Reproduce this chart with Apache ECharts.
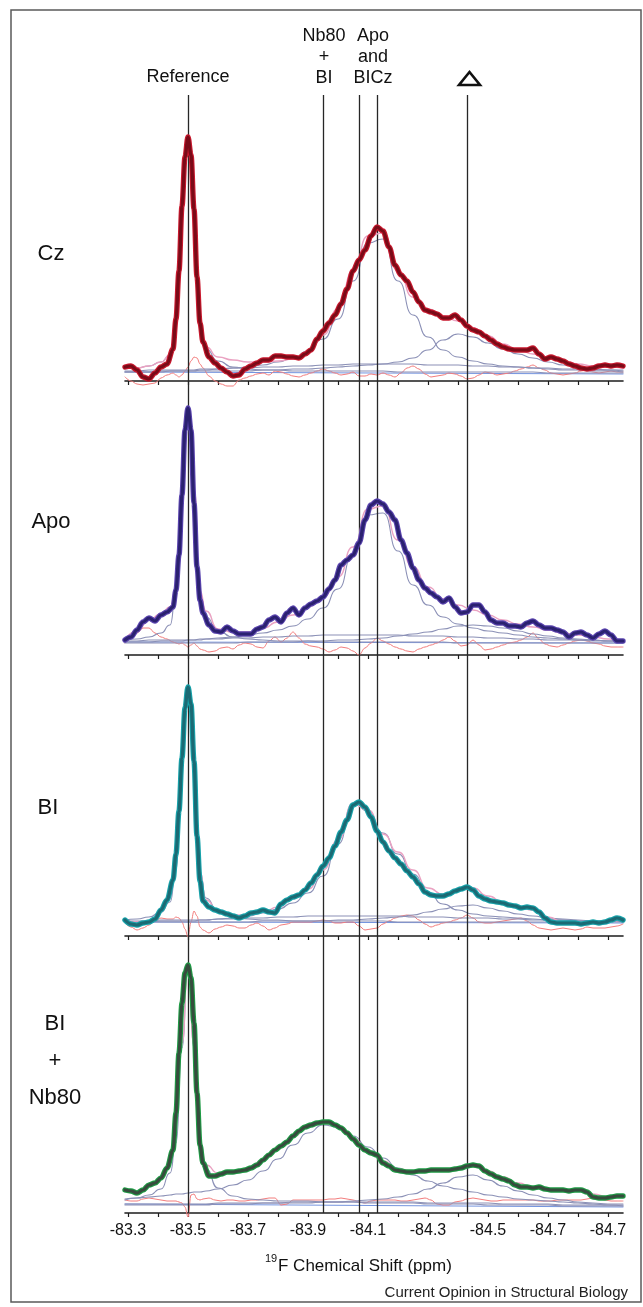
<!DOCTYPE html>
<html>
<head>
<meta charset="utf-8">
<title>19F NMR spectra</title>
<script src="https://cdn.jsdelivr.net/npm/echarts@6.0.0/dist/echarts.min.js"></script>
<style>
  html, body { margin: 0; padding: 0; background: #fff; }
  #main { width: 643px; height: 1307px; }
</style>
</head>
<body>
<div id="main"></div>
<script>
// chemical shift grid (ppm) used by the measured spectra and residuals
var PPM = [
  -83.29,-83.31,-83.33,-83.35,-83.37,-83.39,-83.41,-83.43,-83.45,
  -83.46,-83.47,-83.48,-83.49,-83.50,-83.51,-83.52,-83.53,-83.54,-83.55,
  -83.57,-83.59,-83.61,-83.63,-83.65,-83.67,-83.69,-83.71,-83.73,-83.75,
  -83.77,-83.79,-83.81,-83.83,-83.85,-83.87,-83.89,-83.91,-83.93,-83.95,
  -83.97,-83.99,-84.01,-84.03,-84.05,-84.07,-84.09,-84.11,-84.13,-84.15,
  -84.17,-84.19,-84.21,-84.23,-84.25,-84.27,-84.29,-84.31,-84.33,-84.35,
  -84.37,-84.39,-84.41,-84.43,-84.45,-84.47,-84.49,-84.51,-84.53,-84.55,
  -84.57,-84.59,-84.61,-84.63,-84.65,-84.67,-84.69,-84.71,-84.73,-84.75,
  -84.77,-84.79,-84.81,-84.83,-84.85,-84.87,-84.89,-84.91,-84.93,-84.95
];

// measured spectra (arbitrary intensity)
var CZ_SPEC = [
  14,15,11,4,2,8,14,17,32,
  62,110,175,224,244,226,172,104,58,39,
  24,18,13,9,5,6,12,15,18,21,
  21,25,25,24,24,23,27,31,42,50,
  58,66,77,92,110,121,131,145,154,150,
  134,116,106,100,89,79,71,69,67,63,
  63,66,61,55,51,49,45,41,37,34,
  32,31,31,31,33,27,22,24,22,20,
  17,15,13,12,13,15,16,15,16,15
];
var APO_SPEC = [
  15,18,25,33,37,34,40,43,48,
  65,100,160,225,247,225,152,88,55,42,
  30,24,23,28,24,21,21,21,26,28,
  35,38,33,42,47,40,47,51,54,58,
  66,75,90,95,100,112,135,150,154,151,
  143,135,115,102,87,75,67,62,58,53,
  57,48,42,43,50,50,43,35,32,32,
  29,29,28,32,34,30,27,27,25,23,
  18,22,23,20,17,21,24,20,14,14
];
var BI_SPEC = [
  16,12,11,13,14,17,26,36,56,
  82,125,178,228,249,232,175,100,55,35,
  29,26,24,22,20,18,20,23,24,26,
  24,23,32,36,39,41,46,53,61,70,
  78,90,104,116,131,134,129,119,105,94,
  85,78,72,65,59,52,44,41,40,40,
  42,45,47,49,46,40,37,35,34,33,
  31,30,28,29,28,24,18,14,13,13,
  13,13,12,13,14,13,14,16,18,16
];
var BINB_SPEC = [
  23,22,20,23,28,30,35,45,63,
  100,160,210,240,248,235,190,120,68,50,
  37,37,39,41,41,42,43,45,48,53,
  58,63,67,71,77,82,86,88,90,91,
  91,88,85,80,74,68,63,60,58,50,
  47,43,42,41,41,42,42,43,43,43,
  43,44,45,47,48,47,42,39,36,34,
  32,28,26,26,25,26,24,23,23,23,
  22,23,23,21,16,15,15,16,17,17
];

// fit residuals
var CZ_RESID = [
  4,0,-3,-4,-3,-2,3,6,8,
  6,4,6,10,14,20,24,23,17,13,
  5,0,-3,-5,-5,1,3,5,7,8,
  6,10,9,7,5,4,6,8,10,12,
  10,8,6,7,9,5,5,7,6,8,
  6,4,8,13,15,12,7,4,5,6,
  8,7,5,2,3,6,9,8,6,7,
  8,10,12,14,16,13,11,8,7,6,
  7,8,10,11,9,8,9,10,9,9
];
var APO_RESID = [
  12,16,22,27,27,22,18,16,13,
  12,11,12,10,8,10,12,9,6,5,
  3,4,7,8,6,10,12,11,8,7,
  14,18,13,17,23,17,11,9,8,6,
  3,5,8,7,4,0,7,12,17,14,
  11,8,6,4,3,6,8,10,12,15,
  18,14,9,10,15,10,5,6,8,10,
  12,13,15,18,22,16,11,9,8,10,
  12,14,15,14,12,11,9,8,8,8
];
var BI_RESID = [
  13,9,6,8,11,15,18,17,17,
  19,18,14,7,-1,14,25,20,9,6,
  3,7,9,11,10,8,8,11,13,10,
  6,8,11,12,14,14,14,14,15,16,
  15,13,13,14,14,10,6,7,8,12,
  15,18,20,21,20,16,12,9,11,13,
  14,16,18,21,18,14,13,13,14,15,
  16,17,18,15,11,8,7,6,7,8,
  7,6,7,9,8,8,8,9,10,12
];
var BINB_RESID = [
  13,12,12,14,15,14,13,12,12,
  12,11,10,6,-4,18,19,14,13,14,
  15,13,12,13,13,12,12,13,13,14,
  15,15,8,9,13,13,13,13,13,13,
  14,14,15,14,13,11,10,12,13,13,
  13,13,12,12,13,14,15,13,9,8,
  8,11,12,14,15,14,13,12,12,13,
  13,13,13,13,13,12,12,12,13,13,
  13,13,13,14,15,14,13,12,12,12
];

// coarser grid for the fitted curve and its components
var CPPM = [
  -83.29,-83.33,-83.37,-83.41,-83.44,-83.46,-83.48,-83.50,-83.52,-83.54,-83.56,
  -83.60,-83.65,-83.70,-83.75,-83.80,-83.85,-83.90,-83.95,-84.00,-84.05,
  -84.10,-84.15,-84.20,-84.25,-84.30,-84.35,-84.40,-84.45,-84.50,-84.55,
  -84.60,-84.65,-84.70,-84.75,-84.80,-84.85,-84.90,-84.95
];

var CZ_REF   = [12,13,15,19,26,58,170,244,168,58,32, 20,14,12,11,11,10,10,10,10,10, 10,10,9,9,9,9,9,9,9,9, 9,9,8,8,8,8,8,8];
var CZ_MAIN  = [9,9,9,10,10,10,10,10,10,11,11, 12,13,14,16,19,23,30,42,62,100, 138,142,100,66,44,31,24,20,17,15, 14,13,12,11,11,10,10,9];
var CZ_TRI   = [9,9,9,9,10,10,10,10,10,10,10, 10,10,10,11,11,12,12,13,14,15, 16,17,19,23,31,41,47,44,38,32, 27,23,19,16,14,12,11,10];
var CZ_BROAD = [10,10,11,11,11,11,11,11,11,12,12, 12,13,13,14,14,15,15,16,16,17, 17,17,17,17,16,16,16,15,15,14, 14,13,13,12,12,11,11,11];
var CZ_FIT   = [13,13,15,19,26,60,172,244,170,60,34, 24,21,19,19,20,22,28,46,72,110, 145,148,110,84,72,65,60,53,45,37, 31,27,23,20,17,15,14,13];

var APO_REF   = [15,16,18,22,30,62,166,247,166,62,38, 24,18,16,15,14,14,14,13,13,13, 13,13,13,13,13,13,12,12,12,12, 12,12,12,12,12,12,12,12];
var APO_MAIN  = [13,13,13,14,14,14,14,15,15,15,16, 17,18,20,22,25,29,36,47,66,100, 140,142,104,70,50,38,31,27,24,22, 20,18,17,16,15,15,14,14];
var APO_TRI   = [12,12,12,12,12,12,12,12,12,12,12, 12,12,13,13,13,13,14,14,15,15, 16,17,19,21,23,26,29,30,29,27, 24,21,19,17,16,15,14,13];
var APO_BROAD = [14,14,15,15,15,15,15,15,15,16,16, 16,17,17,18,18,19,19,20,20,20, 20,20,20,19,19,19,18,18,17,17, 16,16,15,15,15,14,14,14];
var APO_FIT   = [15,24,35,41,48,66,166,247,166,64,44, 26,23,23,27,33,40,48,58,78,108, 146,149,115,88,68,56,50,45,40,35, 31,28,25,22,20,18,16,15];

var BI_REF   = [16,17,19,24,34,66,172,249,170,64,38, 25,19,17,16,16,15,15,15,15,15, 15,15,14,14,14,14,14,14,14,14, 14,14,14,14,14,14,14,14];
var BI_MAIN  = [14,14,14,15,15,15,15,15,15,16,16, 17,18,20,23,27,33,43,60,92,133, 125,103,82,62,44,32,26,22,20,19, 18,17,16,16,15,15,15,15];
var BI_TRI   = [14,14,14,14,14,14,14,14,14,14,14, 14,14,14,15,15,15,15,15,16,16, 17,18,19,21,24,27,30,31,28,25, 22,20,18,17,16,15,15,14];
var BI_BROAD = [15,15,15,16,16,16,16,16,16,16,16, 17,17,18,18,19,19,20,20,20,20, 20,20,20,19,19,19,18,18,18,17, 17,16,16,16,15,15,15,15];
var BI_FIT   = [16,14,15,24,40,82,174,249,172,64,36, 25,21,21,24,29,37,47,66,96,132, 126,102,84,66,48,42,46,48,40,34, 29,26,19,14,14,14,15,16];

var BINB_REF   = [13,15,18,24,40,70,165,248,165,70,44, 25,17,14,13,12,12,12,11,11,11, 10,10,10,10,9,9,9,9,8,8, 8,8,8,7,7,7,7,7];
var BINB_MAIN  = [14,15,16,17,18,19,19,20,21,21,22, 24,28,33,42,54,68,80,88,86,77, 66,55,45,38,32,27,24,21,18,16, 14,13,12,11,10,9,8,7];
var BINB_TRI   = [8,8,8,8,8,8,8,8,8,8,8, 9,9,9,10,10,10,10,11,11,12, 13,14,16,19,24,30,36,38,33,27, 22,18,15,13,11,10,9,9];
var BINB_BROAD = [9,9,9,9,9,9,9,9,9,9,9, 10,10,10,10,10,11,11,11,11,11, 11,11,11,11,10,10,10,10,10,9, 9,9,9,8,8,8,8,8];
var BINB_FIT   = [22,21,27,34,50,100,170,248,168,72,48, 40,42,44,53,64,76,86,90,87,75, 63,52,44,42,43,43,45,47,42,36, 30,26,24,23,22,19,16,16];

// straight baselines (value at both ends)
var BASE_ENDS = [-83.29, -84.95];
var CZ_BASE = [9, 7];
var APO_BASE = [13, 12];
var BI_BASE = [14, 13];
var BINB_BASE = [9, 6];

// marked shifts: Reference, Nb80+BI, Apo/BI, BICz, triangle
var MARKERS = [-83.5, -83.953, -84.072, -84.133, -84.434];

var TICKS = [-83.3,-83.4,-83.5,-83.6,-83.7,-83.8,-83.9,-84.0,-84.1,-84.2,-84.3,-84.4,-84.5,-84.6,-84.7,-84.8,-84.9];
var TICK_LABEL_AT = [-83.3,-83.5,-83.7,-83.9,-84.1,-84.3,-84.5,-84.7,-84.9];
var TICK_TEXT = ['-83.3','-83.5','-83.7','-83.9','-84.1','-84.3','-84.5','-84.7','-84.7'];

var PANEL_NAMES = ['Cz', 'Apo', 'BI', 'BI\n+\nNb80'];

var FONT = '"Liberation Sans", Arial, Helvetica, sans-serif';

function zip(xs, ys) {
    var out = [];
    for (var i = 0; i < xs.length; i++) out.push([xs[i], ys[i]]);
    return out;
}

var panels = [
    {spec: CZ_SPEC, resid: CZ_RESID, comps: [CZ_BROAD, CZ_TRI, CZ_MAIN, CZ_REF], fit: CZ_FIT, base: CZ_BASE,
     halo: '#c8192e', core: '#7a0b18', axisY: 381, labelX: 51, labelY: 254},
    {spec: APO_SPEC, resid: APO_RESID, comps: [APO_BROAD, APO_TRI, APO_MAIN, APO_REF], fit: APO_FIT, base: APO_BASE,
     halo: '#5a44ae', core: '#2b2170', axisY: 655, labelX: 51, labelY: 522},
    {spec: BI_SPEC, resid: BI_RESID, comps: [BI_BROAD, BI_TRI, BI_MAIN, BI_REF], fit: BI_FIT, base: BI_BASE,
     halo: '#17a2aa', core: '#1b6a74', axisY: 936, labelX: 48, labelY: 808},
    {spec: BINB_SPEC, resid: BINB_RESID, comps: [BINB_BROAD, BINB_TRI, BINB_MAIN, BINB_REF], fit: BINB_FIT, base: BINB_BASE,
     halo: '#1f9a45', core: '#364c3d', axisY: 1213, labelX: 55, labelY: 1061}
];

var grid = [], xAxis = [], yAxis = [], series = [];

function lineSeries(i, data, color, width, z, smooth) {
    return {
        type: 'line', xAxisIndex: i, yAxisIndex: i, data: data,
        symbol: 'none', silent: true, z: z,
        smooth: smooth, smoothMonotone: 'x',
        lineStyle: {color: color, width: width, cap: 'round', join: 'round'}
    };
}

panels.forEach(function (p, i) {
    grid.push({left: 125, right: 20, top: p.axisY - 260, height: 272});
    xAxis.push({
        type: 'value', gridIndex: i, min: -84.95, max: -83.29, inverse: true,
        axisLine: {onZero: true, lineStyle: {color: '#1c1c1c', width: 1.6}},
        axisTick: {show: true, customValues: TICKS, length: 4, lineStyle: {color: '#1c1c1c', width: 1.2}},
        axisLabel: {
            show: i === 3, customValues: TICK_LABEL_AT, margin: -2,
            fontSize: 16, color: '#111', fontFamily: FONT,
            formatter: function (v) {
                for (var k = 0; k < TICK_LABEL_AT.length; k++) {
                    if (Math.abs(v - TICK_LABEL_AT[k]) < 1e-6) return TICK_TEXT[k];
                }
                return '';
            }
        },
        splitLine: {show: false}
    });
    yAxis.push({type: 'value', gridIndex: i, min: -12, max: 260, show: false});

    series.push(lineSeries(i, zip(BASE_ENDS, p.base), '#7393de', 1, 2, false));
    series.push(lineSeries(i, zip(PPM, p.resid), '#f27c7c', 1, 3, 0.35));
    p.comps.forEach(function (c) {
        series.push(lineSeries(i, zip(CPPM, c), '#8b90b6', 1.1, 4, 0.6));
    });
    series.push(lineSeries(i, zip(CPPM, p.fit), '#eaa2c2', 1.4, 5, 0.6));
    series.push(lineSeries(i, zip(PPM, p.spec), p.halo, 5.4, 6, 0.35));
    series.push(lineSeries(i, zip(PPM, p.spec), p.core, 3.2, 7, 0.35));
});

// full-height grid for the vertical marker lines
grid.push({left: 125, right: 20, top: 95, height: 1118});
xAxis.push({type: 'value', gridIndex: 4, min: -84.95, max: -83.29, inverse: true, show: false});
yAxis.push({type: 'value', gridIndex: 4, min: 0, max: 1, show: false});
series.push({
    type: 'line', xAxisIndex: 4, yAxisIndex: 4, data: [[-83.29, 0]], symbol: 'none', z: 10, silent: true,
    markLine: {
        symbol: ['none', 'none'], silent: true, animation: false,
        label: {show: false},
        lineStyle: {color: '#262626', width: 1.3, type: 'solid'},
        data: MARKERS.map(function (v) { return {xAxis: v}; })
    }
});

var graphic = [
    {type: 'rect', silent: true, z: 100, shape: {x: 11, y: 10, width: 630, height: 1292},
     style: {fill: 'none', stroke: '#5a5a5a', lineWidth: 1.5}},
    {type: 'text', x: 188, y: 77, style: {text: 'Reference', font: '18px ' + FONT, fill: '#111', align: 'center', verticalAlign: 'middle'}},
    {type: 'text', x: 324, y: 57, style: {text: 'Nb80\n+\nBI', font: '18px ' + FONT, lineHeight: 21, fill: '#111', align: 'center', verticalAlign: 'middle'}},
    {type: 'text', x: 373, y: 57, style: {text: 'Apo\nand\nBICz', font: '18px ' + FONT, lineHeight: 21, fill: '#111', align: 'center', verticalAlign: 'middle'}},
    {type: 'polygon', shape: {points: [[459, 85], [480, 85], [469.5, 72]]},
     style: {fill: 'none', stroke: '#111', lineWidth: 2.6, lineJoin: 'miter'}},
    {type: 'text', x: 265, y: 1259, style: {text: '19', font: '11px ' + FONT, fill: '#111', align: 'left', verticalAlign: 'middle'}},
    {type: 'text', x: 278, y: 1266, style: {text: 'F Chemical Shift (ppm)', font: '17px ' + FONT, fill: '#111', align: 'left', verticalAlign: 'middle'}},
    {type: 'text', x: 628, y: 1293, style: {text: 'Current Opinion in Structural Biology', font: '15px ' + FONT, fill: '#222', align: 'right', verticalAlign: 'middle'}}
];
panels.forEach(function (p, i) {
    graphic.push({type: 'text', x: p.labelX, y: p.labelY,
        style: {text: PANEL_NAMES[i], font: '22px ' + FONT, lineHeight: 37, fill: '#111', align: 'center', verticalAlign: 'middle'}});
});

var chart = echarts.init(document.getElementById('main'));
chart.setOption({
    animation: false,
    backgroundColor: '#fff',
    grid: grid,
    xAxis: xAxis,
    yAxis: yAxis,
    series: series,
    graphic: graphic
});
</script>
</body>
</html>
